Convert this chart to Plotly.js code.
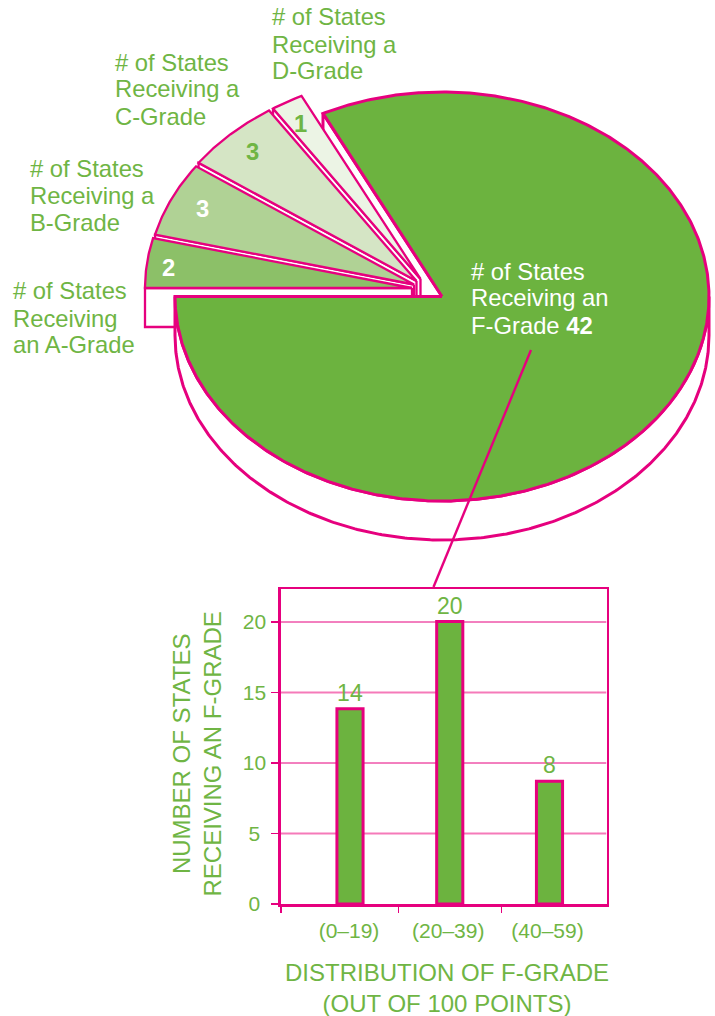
<!DOCTYPE html>
<html>
<head>
<meta charset="utf-8">
<script src="https://cdn.plot.ly/plotly-3.0.1.min.js"></script>
<style>html,body{margin:0;padding:0;background:#fff}#chart{width:715px;height:1016px}</style>
</head>
<body>
<div id="chart"></div>
<script>
// ---- data ----
const gradeNames = ['A', 'B', 'C', 'D', 'F'];
const gradeCounts = [2, 3, 3, 1, 42];
const gradeValueLabels = ['2', '3', '3', '1', '42'];
const gradeLabelA = ['# of States', 'Receiving', 'an A-Grade'];
const gradeLabelB = ['# of States', 'Receiving a', 'B-Grade'];
const gradeLabelC = ['# of States', 'Receiving a', 'C-Grade'];
const gradeLabelD = ['# of States', 'Receiving a', 'D-Grade'];
const gradeLabelF = ['# of States', 'Receiving an', 'F-Grade <b>42</b>'];
const fRanges = ['(0–19)', '(20–39)', '(40–59)'];
const fDrawnHeights = [13.85, 20.03, 8.7];
const fValueLabels = ['14', '20', '8'];
const yTicks = [0, 5, 10, 15, 20];
const yTickText = ['0\u00a0', '5\u00a0', '10', '15', '20'];

// ---- styling / layout constants ----
const W = 715, H = 1016;
const PINK = '#e6007e', PINK_L = '#f57ab9', GREEN = '#6cb33f', TXT = '#6fb544';
const FONT = '"Liberation Sans", Arial, sans-serif';
const FS = 23.8;
const sliceFill = ['#8cc068', '#b0d295', '#d5e5c5', '#ecf4e5', GREEN];
const CX = 442, CY = 296.5, RX = 267, RY = 204.5, DEPTH = 39;
const LW_SMALL = 2.3, LW_BIG = 3;
// exploded offset in pixels of each small slice
const shiftX = [-30, -28, -25.5, -21.5, 0], shiftY = [-8.5, -12, -15.5, -17.5, 0];
const px = x => x / W, py = y => 1 - y / H;

// ---- slices: unit radius data coordinates; the axes make the ellipse ----
const total = gradeCounts.reduce((a, b) => a + b, 0);
const startAngle = 270; // clockwise from the top
let running = startAngle;
const slices = gradeCounts.map((c, i) => {
  const a0 = running, a1 = running + c / total * 360;
  running = a1;
  return {a0, a1, ox: shiftX[i] / RX, oy: -shiftY[i] / RY};
});
const pt = (s, a) => [s.ox + Math.sin(a * Math.PI / 180), s.oy + Math.cos(a * Math.PI / 180)];
const dz = DEPTH / RY;
function faceOf(s) {
  const xs = [s.ox], ys = [s.oy];
  const n = Math.ceil(s.a1 - s.a0) * 2;
  for (let k = 0; k <= n; k++) {
    const p = pt(s, s.a0 + (s.a1 - s.a0) * k / n);
    xs.push(p[0]); ys.push(p[1]);
  }
  xs.push(s.ox); ys.push(s.oy);
  return {x: xs, y: ys};
}
function wall(s, a) {
  const p = pt(s, a);
  return {
    x: [s.ox, p[0], p[0], s.ox, s.ox],
    y: [s.oy, p[1], p[1] - dz, s.oy - dz, s.oy]
  };
}
// rim of the big slice: the front half of its edge, pulled down by the depth
function rim(s) {
  const xs = [], ys = [];
  const a0 = 450, a1 = s.a1;
  for (let a = a0; a <= a1; a += 0.5) { const p = pt(s, a); xs.push(p[0]); ys.push(p[1]); }
  for (let a = a1; a >= a0; a -= 0.5) { const p = pt(s, a); xs.push(p[0]); ys.push(p[1] - dz); }
  xs.push(xs[0]); ys.push(ys[0]);
  return {x: xs, y: ys};
}
function poly(d, fill, name, lw) {
  return {
    type: 'scatter', mode: 'lines', x: d.x, y: d.y, fill: 'toself', fillcolor: fill,
    line: {color: PINK, width: lw, shape: 'linear'}, hoverinfo: 'skip', showlegend: false,
    name: name, xaxis: 'x', yaxis: 'y'
  };
}
const traces = [];
const bigSlice = slices[4];
// far wall of the big slice sits behind the small slices
traces.push(poly(wall(bigSlice, bigSlice.a0), '#ffffff', 'F wall', LW_BIG));
// small slices drawn D, C, B, A so each covers the wall of the previous one
for (let i = 3; i >= 0; i--) {
  traces.push(poly(wall(slices[i], slices[i].a0), '#ffffff', gradeNames[i] + ' wall', LW_SMALL));
  traces.push(poly(faceOf(slices[i]), sliceFill[i], gradeNames[i] + ' grade', LW_SMALL));
}
// thickness and top of the big slice
traces.push(poly(rim(bigSlice), '#ffffff', 'F rim', LW_BIG));
traces.push(poly(faceOf(bigSlice), sliceFill[4], 'F grade', LW_BIG));

// ---- bars ----
traces.push({
  type: 'bar', x: fRanges.map((_, i) => i), y: fDrawnHeights, width: 0.262,
  marker: {color: GREEN, line: {color: PINK, width: 3}},
  text: fValueLabels, textposition: 'outside', cliponaxis: false,
  textfont: {family: FONT, size: 23, color: TXT}, hoverinfo: 'skip', showlegend: false,
  xaxis: 'x2', yaxis: 'y2'
});

// ---- text ----
const note = (x, y, text, color, size, anchor, angle) => ({
  xref: 'paper', yref: 'paper', x: px(x), y: py(y), text, showarrow: false,
  xanchor: anchor || 'left', yanchor: 'middle', align: anchor === 'center' ? 'center' : 'left',
  textangle: angle || 0,
  font: {family: FONT, size: size || FS, color: color || TXT}
});
const block = (x, ys, lines, color) => lines.map((t, i) => note(x, ys[i], t, color));
const annotations = [
  ...block(11, [291, 318, 344], gradeLabelA),
  ...block(28, [168, 195, 222], gradeLabelB),
  ...block(113, [62, 89, 116], gradeLabelC),
  ...block(270, [17, 44, 71], gradeLabelD),
  ...block(469, [272, 298, 325], gradeLabelF, '#ffffff'),
  note(168, 267, '<b>' + gradeValueLabels[0] + '</b>', '#ffffff', FS, 'center'),
  note(202, 209, '<b>' + gradeValueLabels[1] + '</b>', '#ffffff', FS, 'center'),
  note(252, 152, '<b>' + gradeValueLabels[2] + '</b>', TXT, FS, 'center'),
  note(300, 123, '<b>' + gradeValueLabels[3] + '</b>', TXT, FS, 'center'),
  note(447, 988, 'DISTRIBUTION OF F-GRADE<br>(OUT OF 100 POINTS)', TXT, 24, 'center'),
  note(196, 754.5, 'NUMBER OF STATES<br>RECEIVING AN F-GRADE', TXT, 24, 'center', -90)
];

const X0 = 281, X1 = 606.5, Y0 = 904, Y1 = 589.3;
const unitX = 99.75, unitY = 14.1;
const xMin = (X0 - 350) / unitX, xMax = (X1 - 350) / unitX;
const gridLine = (v, color, width) => ({
  type: 'line', xref: 'x2', yref: 'y2', x0: xMin, x1: xMax, y0: v, y1: v, layer: 'below', line: {color, width}
});
const layout = {
  width: W, height: H, margin: {l: 0, r: 0, t: 0, b: 0},
  paper_bgcolor: '#ffffff', plot_bgcolor: 'rgba(0,0,0,0)', showlegend: false,
  font: {family: FONT, color: TXT},
  xaxis: {domain: [0, 1], range: [-CX / RX, (W - CX) / RX], visible: false, fixedrange: true},
  yaxis: {domain: [0, 1], range: [(CY - H) / RY, CY / RY], visible: false, fixedrange: true},
  xaxis2: {
    anchor: 'y2', domain: [px(X0), px(X1)], range: [xMin, xMax],
    tickmode: 'array', tickvals: [-0.01, 0.985, 1.98], ticktext: fRanges, ticks: '',
    tickfont: {family: FONT, size: 21, color: TXT}, ticklabelstandoff: 6,
    showgrid: false, zeroline: false, showline: true, mirror: true, linecolor: PINK, linewidth: 2.7,
    minor: {tickmode: 'array', tickvals: [xMin, 0.49, 1.515], ticks: 'outside', ticklen: 6, tickwidth: 1.2, tickcolor: PINK, showgrid: false},
    fixedrange: true
  },
  yaxis2: {
    anchor: 'x2', domain: [py(Y0), py(Y1)], range: [0, (Y0 - Y1) / unitY],
    tickmode: 'array', tickvals: yTicks, ticktext: yTickText, ticks: 'outside', ticklen: 7, tickwidth: 1.2, tickcolor: PINK,
    tickfont: {family: FONT, size: 21, color: TXT}, ticklabelstandoff: 1,
    showgrid: false, zeroline: false,
    showline: true, mirror: true, linecolor: PINK, linewidth: 2.7,
    fixedrange: true
  },
  annotations,
  shapes: [
    {type: 'line', xref: 'paper', yref: 'paper', x0: px(531), y0: py(350), x1: px(433.5), y1: py(587), line: {color: PINK, width: 2.4}},
    gridLine(5, PINK_L, 2), gridLine(15, PINK_L, 2),
    gridLine(10, PINK, 1), gridLine(20, PINK, 1)
  ]
};
Plotly.newPlot('chart', traces, layout, {displayModeBar: false, staticPlot: true});
</script>
</body>
</html>
